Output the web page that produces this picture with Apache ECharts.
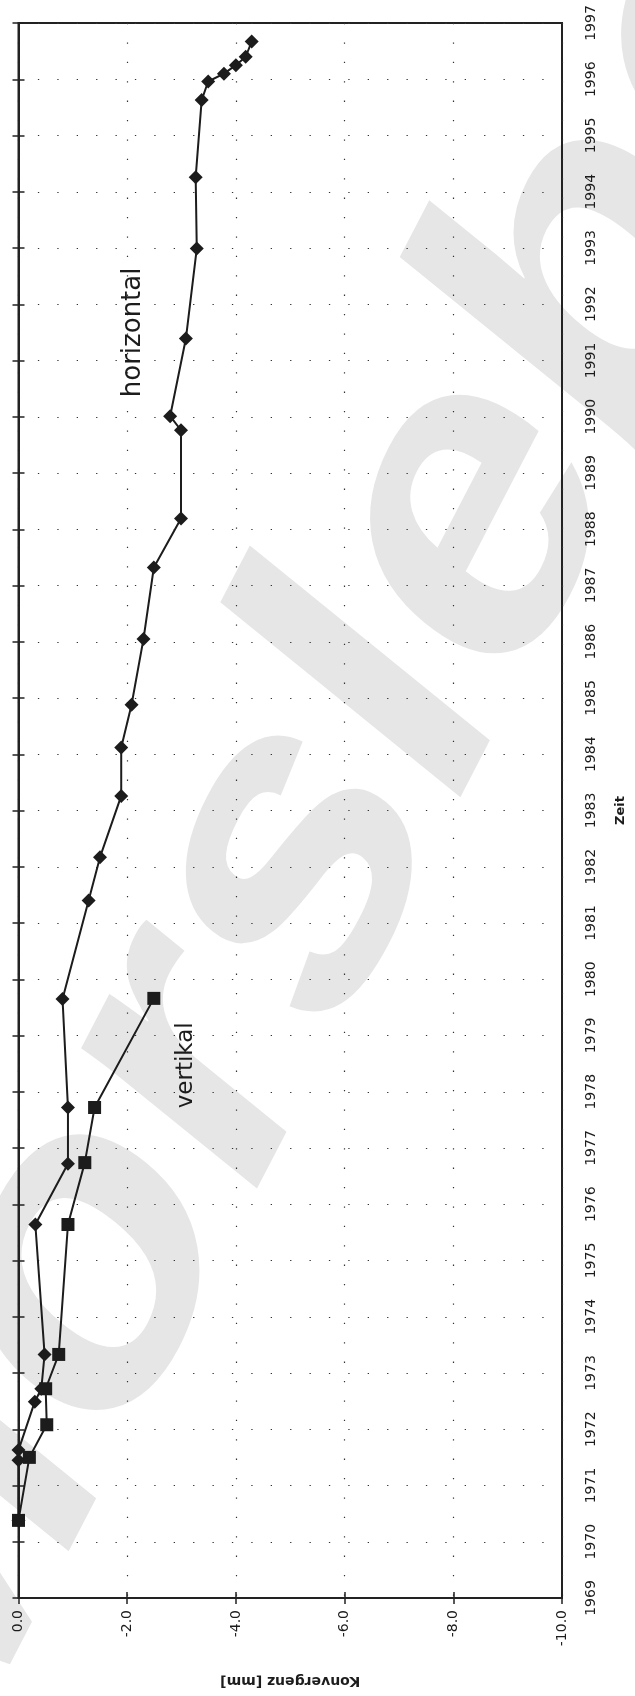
<!DOCTYPE html>
<html>
<head>
<meta charset="utf-8">
<script src="https://cdn.jsdelivr.net/npm/echarts@6/dist/echarts.min.js"></script>
<style>
  html, body { margin: 0; padding: 0; background: #ffffff; }
  #chart { width: 635px; height: 1696px; }
</style>
</head>
<body>
<div id="chart"></div>
<script>
// Konvergenzmessung: horizontal and vertical convergence over time
const hYears  = [1970.38, 1971.45, 1971.63, 1972.49, 1972.72, 1973.33, 1975.64, 1976.72, 1977.72,
                 1979.65, 1981.40, 1982.17, 1983.26, 1984.12, 1984.88, 1986.05, 1987.32, 1988.19,
                 1989.76, 1990.01, 1991.39, 1992.99, 1994.26, 1995.63, 1995.96, 1996.10, 1996.25,
                 1996.40, 1996.67];
const hValues = [0.0, 0.0, 0.0, -0.30, -0.42, -0.48, -0.31, -0.91, -0.91,
                 -0.81, -1.29, -1.50, -1.89, -1.89, -2.08, -2.30, -2.49, -2.99,
                 -2.99, -2.79, -3.08, -3.28, -3.26, -3.37, -3.49, -3.78, -4.00,
                 -4.18, -4.29];

const vYears  = [1970.38, 1971.50, 1972.08, 1972.72, 1973.33, 1975.64, 1976.74, 1977.72, 1979.66];
const vValues = [0.0, -0.20, -0.52, -0.50, -0.74, -0.91, -1.22, -1.40, -2.49];

const yearMin = 1969, yearMax = 1997;
const valMin = -10, valMax = 0, valStep = 2;

const seriesLabels = [
  { text: 'horizontal', value: -2.12, year: 1991.5, size: 26 },
  { text: 'vertikal',   value: -3.08, year: 1978.47, size: 23 }
];
const watermark = 'Morsleben';

const FONT = '"DejaVu Sans", sans-serif';
const INK = '#1c1c1c';

const chart = echarts.init(document.getElementById('chart'), null, { renderer: 'canvas' });

const dotted = { color: '#333', width: 1.2, type: [1.3, 18.1] };

const valueAxisBase = {
  type: 'value', min: valMin, max: valMax, interval: valStep, inverse: true,
  position: 'bottom'
};
const yearAxisBase = {
  type: 'value', min: yearMin, max: yearMax, interval: 1, position: 'right'
};

chart.setOption({
  animation: false,
  backgroundColor: '#ffffff',
  grid: {
    left: 18.5, right: 62, top: 23, bottom: 98,
    show: true, borderColor: '#222', borderWidth: 2, backgroundColor: 'transparent'
  },
  xAxis: [
    Object.assign({}, valueAxisBase, {
      name: 'Konvergenz [mm]',
      nameLocation: 'middle',
      nameRotate: 180,
      nameGap: 76,
      nameTextStyle: { fontFamily: FONT, fontSize: 14, fontWeight: 'bold', color: INK },
      axisLine: { show: true, lineStyle: { color: '#222', width: 2 } },
      axisTick: { show: true, inside: false, length: 6, lineStyle: { color: '#222', width: 1.5 } },
      axisLabel: {
        rotate: 90, margin: 12, fontFamily: FONT, fontSize: 14, color: INK,
        formatter: v => v.toFixed(1)
      },
      splitLine: { show: true, lineStyle: dotted }
    }),
    Object.assign({}, valueAxisBase, {
      offset: 0,
      axisLine: { show: false },
      axisTick: { show: true, inside: true, length: 6, lineStyle: { color: '#222', width: 1.5 } },
      axisLabel: { show: false },
      splitLine: { show: false }
    })
  ],
  yAxis: [
    Object.assign({}, yearAxisBase, {
      name: 'Zeit',
      nameLocation: 'middle',
      nameRotate: 90,
      nameGap: 52,
      nameTextStyle: { fontFamily: FONT, fontSize: 13, fontWeight: 'bold', color: INK },
      axisLine: { show: true, lineStyle: { color: '#222', width: 2 } },
      axisTick: { show: true, inside: false, length: 6, lineStyle: { color: '#222', width: 1.5 } },
      axisLabel: {
        rotate: 90, margin: 22, fontFamily: FONT, fontSize: 14, color: INK,
        formatter: v => String(v)
      },
      splitLine: { show: true, lineStyle: dotted }
    }),
    Object.assign({}, yearAxisBase, {
      offset: 0,
      axisLine: { show: false },
      axisTick: { show: true, inside: true, length: 6, lineStyle: { color: '#222', width: 1.5 } },
      axisLabel: { show: false },
      splitLine: { show: false }
    })
  ],
  series: [
    {
      name: 'horizontal', type: 'line',
      data: hYears.map((y, i) => [hValues[i], y]),
      symbol: 'diamond', symbolSize: 14, showSymbol: true,
      itemStyle: { color: INK },
      lineStyle: { color: INK, width: 2 },
      z: 5
    },
    {
      name: 'vertikal', type: 'line',
      data: vYears.map((y, i) => [vValues[i], y]),
      symbol: 'rect', symbolSize: 13, showSymbol: true,
      itemStyle: { color: INK },
      lineStyle: { color: INK, width: 2 },
      z: 6
    }
  ]
});

// Series captions, placed through the axes' scale
const toPx = (value, year) => chart.convertToPixel({ xAxisIndex: 0, yAxisIndex: 0 }, [value, year]);
const captionGraphics = seriesLabels.map(l => {
  const p = toPx(l.value, l.year);
  return {
    type: 'text', x: p[0], y: p[1], rotation: Math.PI / 2, silent: true, z: 20,
    style: {
      text: l.text, x: 0, y: 0, align: 'center', verticalAlign: 'middle',
      font: l.size + 'px ' + FONT, fill: INK
    }
  };
});

// Large pale lettering behind the plot, slanted and stretched vertically
const stamp = {
  type: 'group', x: 0, y: 0, scaleY: 1.25, silent: true, z: -10,
  children: [{
    type: 'text', x: -160, y: 1393, rotation: 57 * Math.PI / 180, silent: true, z: -10,
    style: {
      text: watermark, x: 0, y: 0, align: 'left', verticalAlign: 'middle',
      font: 'bold 395px "Liberation Sans", Arial, sans-serif', fill: '#e6e6e6'
    }
  }]
};

chart.setOption({ graphic: [stamp].concat(captionGraphics) });
</script>
</body>
</html>
